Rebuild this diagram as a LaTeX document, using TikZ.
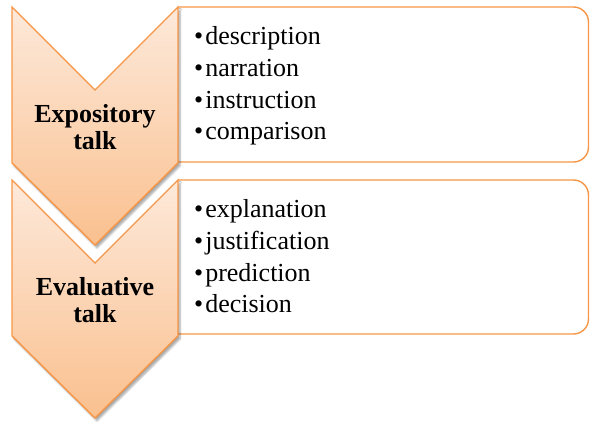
\documentclass[tikz,border=0pt]{standalone}
\usepackage{fontspec}
\setmainfont{Liberation Serif}
\usetikzlibrary{shadows.blur}
\definecolor{chevtop}{HTML}{FDE9DA}
\definecolor{chevbot}{HTML}{FAC08F}
\definecolor{chevline}{HTML}{F79646}
\tikzset{
	chevron/.style={draw=chevline, line width=1.4pt, top color=chevtop, bottom color=chevbot,
		blur shadow={shadow xshift=2pt, shadow yshift=-3pt, shadow blur steps=6, shadow opacity=35}},
	itembox/.style={draw=chevline, line width=1.4pt, fill=white, rounded corners=15pt},
	talklabel/.style={font=\fontsize{26}{27}\selectfont\bfseries, align=center, inner sep=0pt},
	itemlist/.style={font=\fontsize{26}{31.8}\selectfont, align=left, inner sep=0pt, anchor=base west},
}
\newcommand{\itm}{\textbullet\hspace{2pt}}
\begin{document}
\begin{tikzpicture}[x=1pt, y=-1pt, line join=miter]
	\useasboundingbox (0,0) rectangle (590,422);
	% boxes with the talk moves
	\foreach \t/\b in {7/162, 180/334}
	\draw[itembox] (178,\t) -- (588.5,\t) -- (588.5,\b) -- (178,\b);
	% chevrons, lower one first
	\foreach \t in {180, 7}
	\draw[chevron] (12,\t) -- (95,\t+83) -- (178,\t) -- (178,\t+156) -- (95,\t+238) -- (12,\t+156) -- cycle;
	\path
	(95,127) node[talklabel] (expo) {Expository\\talk}
	(95,300) node[talklabel] (eval) {Evaluative\\talk}
	(194,140) node[itemlist] (expolist) {\itm description\\\itm narration\\\itm instruction\\\itm comparison}
	(194,313) node[itemlist] (evallist) {\itm explanation\\\itm justification\\\itm prediction\\\itm decision}
	;
\end{tikzpicture}
\end{document}
